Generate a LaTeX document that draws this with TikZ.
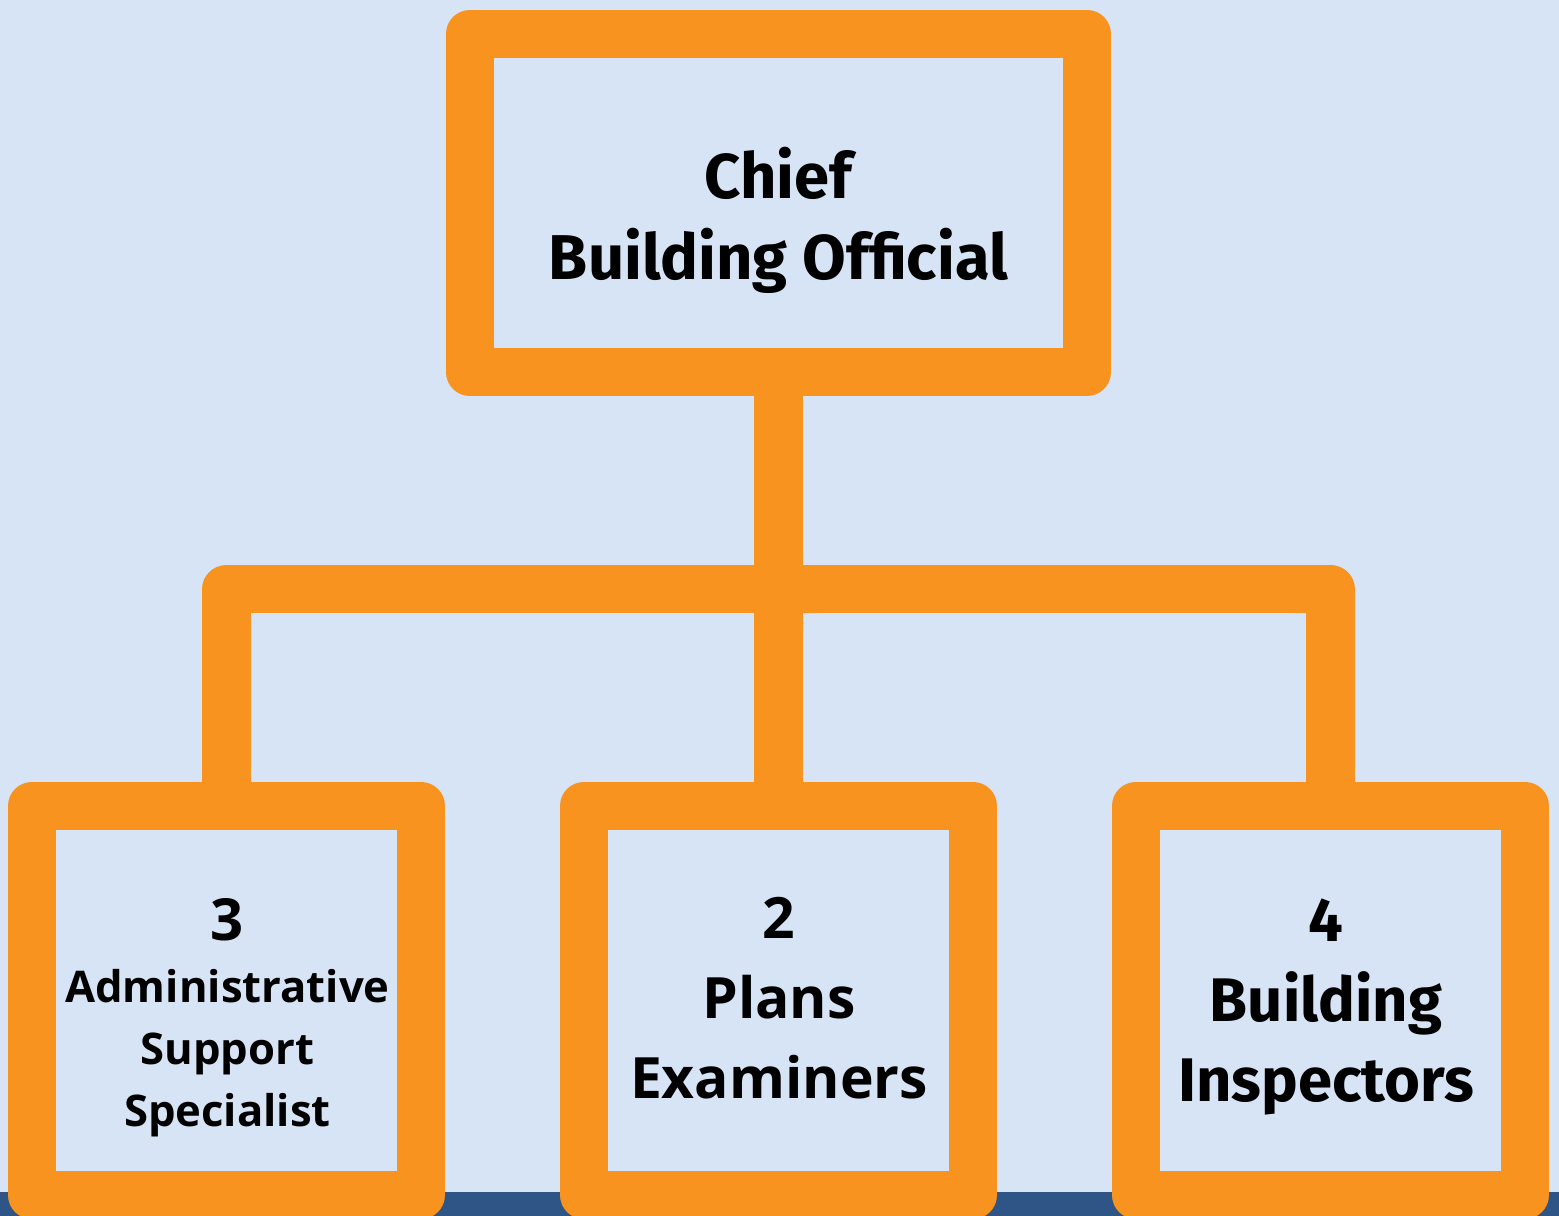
\documentclass[tikz,border=0pt]{standalone}
\usepackage{fontspec}
\setmainfont{Fira Sans}
\newfontfamily\roundfont{Open Sans}
\usetikzlibrary{positioning}
\definecolor{bgblue}{RGB}{214,228,245}
\definecolor{orgline}{RGB}{247,147,30}
\definecolor{navystrip}{RGB}{46,85,133}
\tikzset{
  orgbox/.style={draw=orgline, line width=4.8mm, line join=round, fill=bgblue,
    inner sep=0pt, outer sep=0pt},
  topbox/.style={orgbox, minimum width=6.17cm, minimum height=3.38cm},
  staffbox/.style={orgbox, minimum width=3.89cm, minimum height=3.89cm},
  orglink/.style={draw=orgline, line width=4.8mm, line join=round},
  boxtext/.style={align=center, inner sep=0pt, font=\bfseries}
}
\begin{document}
\begin{tikzpicture}[x=0.01cm, y=-0.01cm]
  % page and bottom strip
  \fill[bgblue] (0,0) rectangle (1559,1216);
  \fill[navystrip] (0,1192) rectangle (1559,1216);
  \useasboundingbox (0,0) rectangle (1559,1216);
  % boxes
  \node[topbox] (cbo) at (778.5,203) {};
  \node[staffbox] (admin) at (226.5,1000.5) {};
  \node[staffbox] (plans) at (778.5,1000.5) {};
  \node[staffbox] (insp) at (1330.5,1000.5) {};
  % connectors
  \coordinate (bar) at (778.5,589);
  \draw[orglink] (cbo.south) -- (plans.north);
  \draw[orglink] (admin.north) |- (bar) -| (insp.north);
  % texts
  \node[boxtext, font=\fontsize{18}{23}\selectfont\bfseries] (cbotxt) at (778.5,220)
    {Chief\\Building Official};
  \node[boxtext, font=\roundfont\fontsize{12.4}{17.6}\selectfont\bfseries] (admintxt) at (227.5,1018)
    {{\fontsize{16.5}{19}\selectfont 3}\\Administrative\\Support\\Specialist};
  \node[boxtext, font=\roundfont\fontsize{16.2}{22.8}\selectfont\bfseries] (planstxt) at (779,998)
    {2\\Plans\\Examiners};
  \node[boxtext, font=\fontsize{17.5}{22.8}\selectfont\bfseries] (insptxt) at (1326,1007)
    {4\\Building\\Inspectors};
\end{tikzpicture}
\end{document}
